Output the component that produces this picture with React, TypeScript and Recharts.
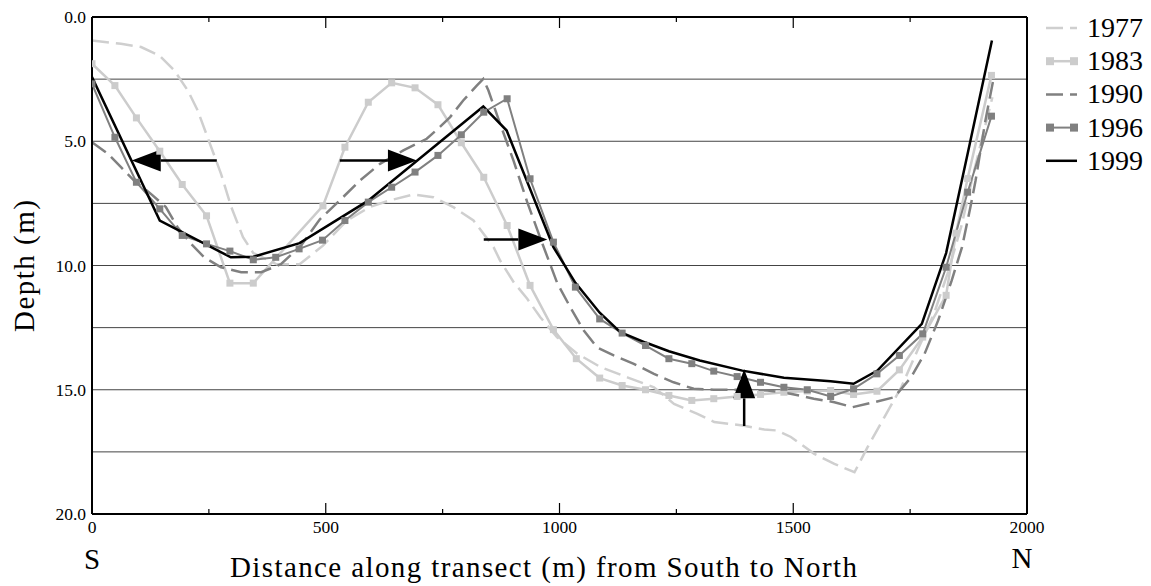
import React from 'react';
import { LineChart, Line, XAxis, YAxis, CartesianGrid, ReferenceLine } from 'recharts';

const FONT = '"Liberation Serif", "Times New Roman", serif';
const X_MAX = 2000;

// Distance along the transect (m) and depth (m) for each survey year
const dist1977 = [0, 62, 105, 144, 176, 205, 226, 255, 276, 298, 323, 345, 395, 444, 494, 545, 594, 637, 687, 730, 773, 816, 859, 873, 902, 931, 959, 995, 1038, 1088, 1145, 1202, 1245, 1295, 1331, 1392, 1438, 1466, 1495, 1545, 1588, 1631, 1659, 1695, 1731, 1766, 1801, 1830, 1859, 1887, 1908, 1926];
const depth1977 = [0.95, 1.08, 1.21, 1.55, 2.15, 2.96, 3.76, 5.24, 6.31, 7.65, 8.86, 9.5, 9.95, 9.95, 9.2, 8.19, 7.65, 7.38, 7.14, 7.25, 7.65, 8.19, 9.26, 9.8, 10.67, 11.34, 12.08, 12.89, 13.55, 14.09, 14.5, 14.9, 15.57, 15.97, 16.3, 16.44, 16.6, 16.64, 16.9, 17.58, 17.98, 18.32, 17.31, 16.1, 14.9, 13.4, 11.94, 10.33, 8.46, 6.18, 4.57, 3.23];

const dist1983 = [0, 49, 95, 145, 193, 245, 295, 345, 494, 541, 591, 641, 691, 740, 790, 838, 888, 937, 987, 1036, 1086, 1134, 1184, 1234, 1283, 1330, 1380, 1430, 1480, 1530, 1580, 1629, 1679, 1727, 1777, 1827, 1848, 1873, 1924];
const depth1983 = [1.88, 2.76, 4.06, 5.4, 6.74, 8.0, 10.71, 10.71, 7.6, 5.24, 3.43, 2.65, 2.85, 3.53, 5.06, 6.45, 8.39, 10.8, 12.58, 13.75, 14.53, 14.83, 15.0, 15.23, 15.43, 15.36, 15.27, 15.19, 15.1, 15.05, 15.03, 15.19, 15.06, 14.2, 12.88, 11.2, 8.7, 6.5, 2.35];

const dist1990 = [0, 34, 62, 90, 126, 158, 183, 212, 240, 276, 319, 362, 404, 447, 487, 530, 573, 616, 666, 716, 744, 766, 794, 823, 837, 848, 873, 902, 931, 959, 995, 1023, 1052, 1080, 1116, 1159, 1202, 1244, 1287, 1330, 1387, 1445, 1494, 1544, 1588, 1627, 1673, 1716, 1752, 1781, 1810, 1839, 1861, 1879, 1890, 1911, 1929];
const depth1990 = [5.04, 5.5, 6.04, 6.58, 7.12, 7.65, 8.46, 9.13, 9.67, 10.07, 10.27, 10.27, 9.95, 9.2, 8.15, 7.38, 6.58, 5.91, 5.37, 4.9, 4.43, 4.03, 3.36, 2.76, 2.49, 2.96, 4.3, 5.8, 7.45, 8.9, 10.7, 11.68, 12.62, 13.29, 13.62, 13.96, 14.36, 14.7, 14.96, 15.0, 15.0, 15.03, 15.16, 15.36, 15.5, 15.7, 15.5, 15.3, 14.5, 13.55, 12.21, 10.6, 9.26, 7.65, 6.58, 4.17, 2.42];

const dist1996 = [0, 49, 95, 145, 193, 245, 295, 345, 393, 443, 493, 541, 591, 641, 691, 740, 790, 838, 888, 937, 987, 1034, 1086, 1134, 1184, 1234, 1283, 1330, 1380, 1430, 1480, 1530, 1580, 1629, 1679, 1727, 1777, 1827, 1873, 1924];
const depth1996 = [2.69, 4.84, 6.65, 7.72, 8.79, 9.13, 9.42, 9.77, 9.67, 9.33, 8.98, 8.19, 7.45, 6.85, 6.24, 5.57, 4.74, 3.83, 3.29, 6.51, 9.06, 10.87, 12.15, 12.72, 13.22, 13.75, 13.95, 14.25, 14.47, 14.7, 14.9, 15.0, 15.27, 14.96, 14.36, 13.62, 12.75, 10.07, 7.05, 3.99];

const dist1999 = [0, 145, 297, 345, 444, 590, 837, 887, 987, 1034, 1086, 1130, 1184, 1234, 1300, 1391, 1480, 1580, 1629, 1680, 1775, 1827, 1873, 1925];
const depth1999 = [2.42, 8.19, 9.67, 9.65, 9.1, 7.4, 3.6, 4.57, 9.26, 10.7, 11.9, 12.68, 13.1, 13.45, 13.82, 14.23, 14.52, 14.66, 14.76, 14.23, 12.35, 9.5, 5.5, 0.95];

const X_TICKS = [0, 250, 500, 750, 1000, 1250, 1500, 1750, 2000];
const Y_TICKS = [0, 2.5, 5, 7.5, 10, 12.5, 15, 17.5, 20];

// Annotation arrows: [fromDistance, fromDepth, toDistance, toDepth]
const ARROWS = [
  [267, 5.77, 85, 5.77],
  [530, 5.77, 695, 5.77],
  [838, 8.95, 974, 8.95],
  [1395, 16.46, 1395, 14.18],
];

const toPoints = (xs: number[], ys: number[]) => xs.map((x, i) => ({ x, y: ys[i] }));

const SERIES = [
  { name: '1977', points: toPoints(dist1977, depth1977), color: '#cfcfcf', width: 2.5, dash: '17 7', marker: false },
  { name: '1983', points: toPoints(dist1983, depth1983), color: '#cccccc', width: 2.5, dash: undefined, marker: true },
  { name: '1990', points: toPoints(dist1990, depth1990), color: '#808080', width: 2.5, dash: '17 7', marker: false },
  { name: '1996', points: toPoints(dist1996, depth1996), color: '#808080', width: 2, dash: undefined, marker: true },
  { name: '1999', points: toPoints(dist1999, depth1999), color: '#000000', width: 2.5, dash: undefined, marker: false },
];

const squareDot = (color: string) => (p: any) => (
  <rect key={p.key ?? `${p.cx}-${p.cy}`} x={p.cx - 3.5} y={p.cy - 3.5} width={7} height={7} fill={color} />
);

const tickLen = (v: number) => (v % 500 === 0 ? 11 : 5);

const BottomTick = (p: any) => (
  <g>
    <line x1={p.x} x2={p.x} y1={p.y} y2={p.y - tickLen(p.payload.value)} stroke="#000" strokeWidth={1.2} />
    {p.payload.value % 500 === 0 && (
      <text x={p.x} y={p.y + 19} textAnchor="middle" fontFamily={FONT} fontSize={17.5} fill="#000">
        {p.payload.value}
      </text>
    )}
  </g>
);

// top edge of the frame with its inward ticks, spaced along the edge
const TopEdge = (p: any) => {
  const left = Math.min(p.x1, p.x2);
  const right = Math.max(p.x1, p.x2);
  const y = p.y1;
  return (
    <g>
      <line x1={left} x2={right} y1={y} y2={y} stroke="#000" strokeWidth={2} />
      {X_TICKS.map((v) => {
        const x = left + ((right - left) * v) / X_MAX;
        return <line key={v} x1={x} x2={x} y1={y} y2={y + tickLen(v)} stroke="#000" strokeWidth={1.2} />;
      })}
    </g>
  );
};

const DepthTick = (p: any) => {
  if (p.payload.value % 5 !== 0) return <g />;
  return (
    <text x={p.x} y={p.y + 6} textAnchor="end" fontFamily={FONT} fontSize={17.5} fill="#000">
      {p.payload.value.toFixed(1)}
    </text>
  );
};

const Arrow = (p: any) => {
  const { x1, y1, x2, y2 } = p;
  const len = Math.hypot(x2 - x1, y2 - y1);
  const ux = (x2 - x1) / len;
  const uy = (y2 - y1) / len;
  const headLen = 29;
  const headHalf = 11;
  const bx = x2 - ux * headLen;
  const by = y2 - uy * headLen;
  const nx = -uy * headHalf;
  const ny = ux * headHalf;
  return (
    <g>
      <line x1={x1} y1={y1} x2={bx} y2={by} stroke="#000" strokeWidth={2.5} />
      <polygon points={`${x2},${y2} ${bx + nx},${by + ny} ${bx - nx},${by - ny}`} fill="#000" />
    </g>
  );
};

const XTitle = () => (
  <g fontFamily={FONT} fill="#000">
    <text x={92} y={569} fontSize={29} textAnchor="middle">S</text>
    <text x={230} y={577} fontSize={29} textLength={627} lengthAdjust="spacing">
      Distance along transect (m) from South to North
    </text>
    <text x={1022} y={568} fontSize={29} textAnchor="middle">N</text>
  </g>
);

const YTitle = () => (
  <text
    x={33.5}
    y={266}
    transform="rotate(-90, 33.5, 266)"
    textAnchor="middle"
    fontFamily={FONT}
    fontSize={29}
    textLength={132}
    lengthAdjust="spacing"
    fill="#000"
  >
    Depth (m)
  </text>
);

function LegendBox() {
  return (
    <svg width={111} height={180} style={{ position: 'absolute', left: 1040, top: 0 }}>
      {SERIES.map((s, i) => {
        const cy = 28 + i * 33.2;
        return (
          <g key={s.name}>
            <line x1={6} x2={37} y1={cy} y2={cy} stroke={s.color} strokeWidth={s.width} strokeDasharray={s.dash} />
            {s.marker && <rect x={6} y={cy - 4} width={8} height={8} fill={s.color} />}
            {s.marker && <rect x={30} y={cy - 4} width={8} height={8} fill={s.color} />}
            <text x={47} y={cy + 9} fontFamily={FONT} fontSize={28} fill="#000">
              {s.name}
            </text>
          </g>
        );
      })}
    </svg>
  );
}

export default function App() {
  return (
    <div style={{ position: 'absolute', left: 0, top: 0, width: 1151, height: 586, background: '#fff' }}>
      <LineChart width={1151} height={586} margin={{ top: 17, right: 124, bottom: 0, left: 0 }}>
        <CartesianGrid vertical={false} stroke="#444" strokeWidth={1} />
        <XAxis
          dataKey="x"
          type="number"
          domain={[0, X_MAX]}
          ticks={X_TICKS}
          interval={0}
          height={72}
          tickSize={0}
          tickMargin={0}
          tickLine={false}
          tick={(p: any) => <BottomTick {...p} />}
          axisLine={{ stroke: '#000', strokeWidth: 2 }}
          label={{ content: () => <XTitle /> }}
          allowDataOverflow
        />
        <YAxis
          type="number"
          domain={[0, 20]}
          reversed
          ticks={Y_TICKS}
          interval={0}
          width={92}
          tickSize={0}
          tickMargin={6}
          tickLine={false}
          tick={(p: any) => <DepthTick {...p} />}
          axisLine={{ stroke: '#000', strokeWidth: 2 }}
          label={{ content: () => <YTitle /> }}
          allowDataOverflow
        />
        {SERIES.map((s) => (
          <Line
            key={s.name}
            data={s.points}
            dataKey="y"
            type="linear"
            stroke={s.color}
            strokeWidth={s.width}
            strokeDasharray={s.dash}
            dot={s.marker ? squareDot(s.color) : false}
            activeDot={false}
            isAnimationActive={false}
          />
        ))}
        {/* plot frame: top edge with ticks, right edge */}
        <ReferenceLine
          segment={[
            { x: 0, y: 0 },
            { x: X_MAX, y: 0 },
          ]}
          ifOverflow="visible"
          shape={(p: any) => <TopEdge {...p} />}
        />
        <ReferenceLine x={X_MAX} stroke="#000" strokeWidth={2} ifOverflow="visible" />
        {ARROWS.map((a, i) => (
          <ReferenceLine
            key={`arrow-${i}`}
            segment={[
              { x: a[0], y: a[1] },
              { x: a[2], y: a[3] },
            ]}
            ifOverflow="visible"
            shape={(p: any) => <Arrow {...p} />}
          />
        ))}
      </LineChart>
      <LegendBox />
    </div>
  );
}
